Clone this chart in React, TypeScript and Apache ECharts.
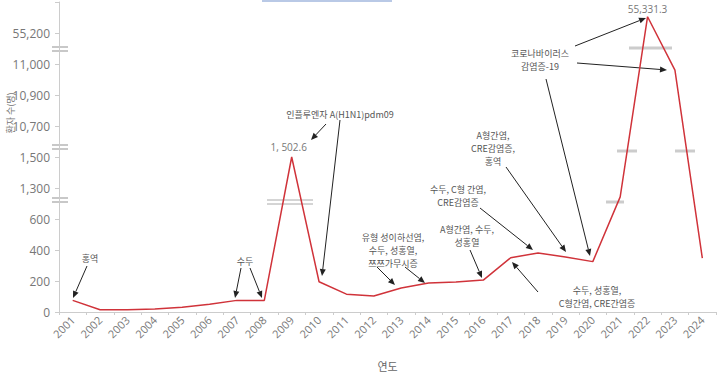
import React, { useEffect, useRef } from "react";
import * as echarts from "echarts";

const years = ["2001","2002","2003","2004","2005","2006","2007","2008","2009","2010","2011","2012","2013","2014","2015","2016","2017","2018","2019","2020","2021","2022","2023","2024"];
const counts = [75, 14, 15, 20, 30, 50, 75, 75, 1502.6, 195, 115, 103, 155, 187, 194, 206, 350, 381, 355, 325, 1100, 55331.3, 10980, 348];
const yTickValues = [0, 200, 400, 600, 1300, 1500, 10700, 10900, 11000, 55200];
const labelledPoints = ["2009", "2022"];
const topStepUnit = 250;

const FONT = "'Noto Sans CJK KR', 'Noto Sans', sans-serif";
const NUMFONT = "'Open Sans', 'Noto Sans', sans-serif";

function toStep(v: number): number {
  const t = yTickValues;
  for (let i = 0; i < t.length - 1; i++) {
    if (v >= t[i] && v <= t[i + 1]) return i + (v - t[i]) / (t[i + 1] - t[i]);
  }
  return t.length - 1 + (v - t[t.length - 1]) / topStepUnit;
}

function fmt(v: number): string {
  return v.toLocaleString("en-US", { maximumFractionDigits: 1 });
}

function arrow(x1: number, y1: number, x2: number, y2: number) {
  const dx = x2 - x1, dy = y2 - y1;
  const len = Math.sqrt(dx * dx + dy * dy);
  const ux = dx / len, uy = dy / len;
  const hl = 7, hw = 3;
  const bx = x2 - ux * hl, by = y2 - uy * hl;
  return [
    { type: "line", shape: { x1, y1, x2: bx, y2: by }, style: { stroke: "#222", lineWidth: 1 } },
    {
      type: "polygon",
      shape: { points: [[x2, y2], [bx - uy * hw, by + ux * hw], [bx + uy * hw, by - ux * hw]] },
      style: { fill: "#222" },
    },
  ];
}

function note(x: number, y: number, text: string, size = 9, family = FONT, color = "#555") {
  return {
    type: "text",
    x, y,
    style: { text, fill: color, font: `${size}px ${family}`, textAlign: "center", textVerticalAlign: "middle", lineHeight: 13 },
  };
}

function hline(x1: number, x2: number, y: number, color: string, w: number) {
  return { type: "line", shape: { x1, y1: y, x2, y2: y }, style: { stroke: color, lineWidth: w } };
}

export default function App() {
  const ref = useRef<HTMLDivElement>(null);
  useEffect(() => {
    document.body.style.margin = "0";
    const chart = echarts.init(ref.current!, null, { renderer: "svg" });
    const data = counts.map((v) => toStep(v));
    chart.setOption({
      animation: false,
      textStyle: { fontFamily: FONT },
      grid: { left: 59, right: 7, top: 2, bottom: 65, containLabel: false },
      xAxis: {
        type: "category",
        data: years,
        boundaryGap: true,
        name: "연도",
        nameLocation: "middle",
        nameGap: 48,
        nameTextStyle: { color: "#666", fontSize: 11 },
        axisLine: { lineStyle: { color: "#ccc" } },
        axisTick: { show: true, length: 3, lineStyle: { color: "#ccc" } },
        axisLabel: { rotate: 45, color: "#777", fontSize: 11, margin: 6, fontFamily: NUMFONT },
      },
      yAxis: {
        type: "value",
        min: 0,
        max: 10,
        interval: 1,
        splitLine: { show: false },
        axisLine: { show: true, lineStyle: { color: "#ccc" } },
        axisTick: { show: true, length: 4, lineStyle: { color: "#ccc" } },
        axisLabel: {
          color: "#777", fontSize: 12, margin: 9, fontFamily: NUMFONT,
          formatter: (v: number) => (v < yTickValues.length ? fmt(yTickValues[v]) : ""),
        },
      },
      series: [
        {
          type: "line",
          data,
          symbol: "none",
          lineStyle: { color: "#d0333a", width: 1.5 },
          z: 3,
        },
      ],
    });
    const p2009 = chart.convertToPixel({ gridIndex: 0 }, [years.indexOf(labelledPoints[0]), data[years.indexOf(labelledPoints[0])]]) as number[];
    const p2022 = chart.convertToPixel({ gridIndex: 0 }, [years.indexOf(labelledPoints[1]), data[years.indexOf(labelledPoints[1])]]) as number[];
    const graphic: any[] = [
      { type: "rect", shape: { x: 262, y: 0, width: 130, height: 2 }, style: { fill: "#b9c9e6" } },
      // axis breaks
      hline(52, 68, 47, "#aaa", 1.3), hline(52, 68, 51, "#aaa", 1.3),
      hline(52, 68, 145, "#aaa", 1.3), hline(52, 68, 149, "#aaa", 1.3),
      hline(52, 68, 198, "#aaa", 1.3), hline(52, 68, 202, "#aaa", 1.3),
      // line breaks
      hline(267, 313, 200, "#aaa", 1), hline(267, 313, 204, "#aaa", 1),
      hline(606, 624, 202, "#ccc", 3),
      hline(617, 637, 151, "#ccc", 3),
      hline(629, 672, 48, "#ccc", 3),
      hline(675, 695, 151, "#ccc", 3),
      // y axis name
      {
        type: "text", x: 10, y: 113, rotation: Math.PI / 2,
        style: { text: "환자 수(명)", fill: "#777", font: `9px ${FONT}`, textAlign: "center", textVerticalAlign: "middle" },
      },
      // value labels
      note(p2009[0] - 3, p2009[1] - 10, "1, 502.6", 10, NUMFONT, "#777"),
      note(p2022[0], p2022[1] - 8, fmt(counts[years.indexOf(labelledPoints[1])]), 10, NUMFONT, "#777"),
      // annotations
      note(90, 258, "홍역"),
      ...arrow(87, 266, 73, 298),
      note(245, 261, "수두"),
      ...arrow(241, 268, 235, 298),
      ...arrow(250, 268, 262, 298),
      note(340, 114, "인플루엔자 A(H1N1)pdm09", 9),
      ...arrow(326, 124, 311, 140),
      ...arrow(340, 120, 322, 276),
      note(393, 250, "유형 성이하선염,\n수두, 성홍열,\n쯔쯔가무시증"),
      ...arrow(377, 267, 395, 285),
      ...arrow(405, 267, 425, 283),
      note(467, 236, "A형간염, 수두,\n성홍열"),
      ...arrow(470, 250, 482, 278),
      note(458, 196, "수두, C형 간염,\nCRE감염증"),
      ...arrow(480, 208, 533, 250),
      note(493, 148, "A형간염,\nCRE감염증,\n홍역"),
      ...arrow(506, 167, 566, 252),
      note(540, 60, "코로나바이러스\n감염증-19"),
      ...arrow(575, 46, 646, 18),
      ...arrow(577, 63, 667, 70),
      ...arrow(546, 79, 590, 256),
      note(597, 297, "수두, 성홍열,\nC형간염, CRE간염증"),
      ...arrow(538, 292, 512, 262),
    ];
    chart.setOption({ graphic });
    return () => chart.dispose();
  }, []);
  return <div ref={ref} style={{ width: 723, height: 377 }} />;
}
